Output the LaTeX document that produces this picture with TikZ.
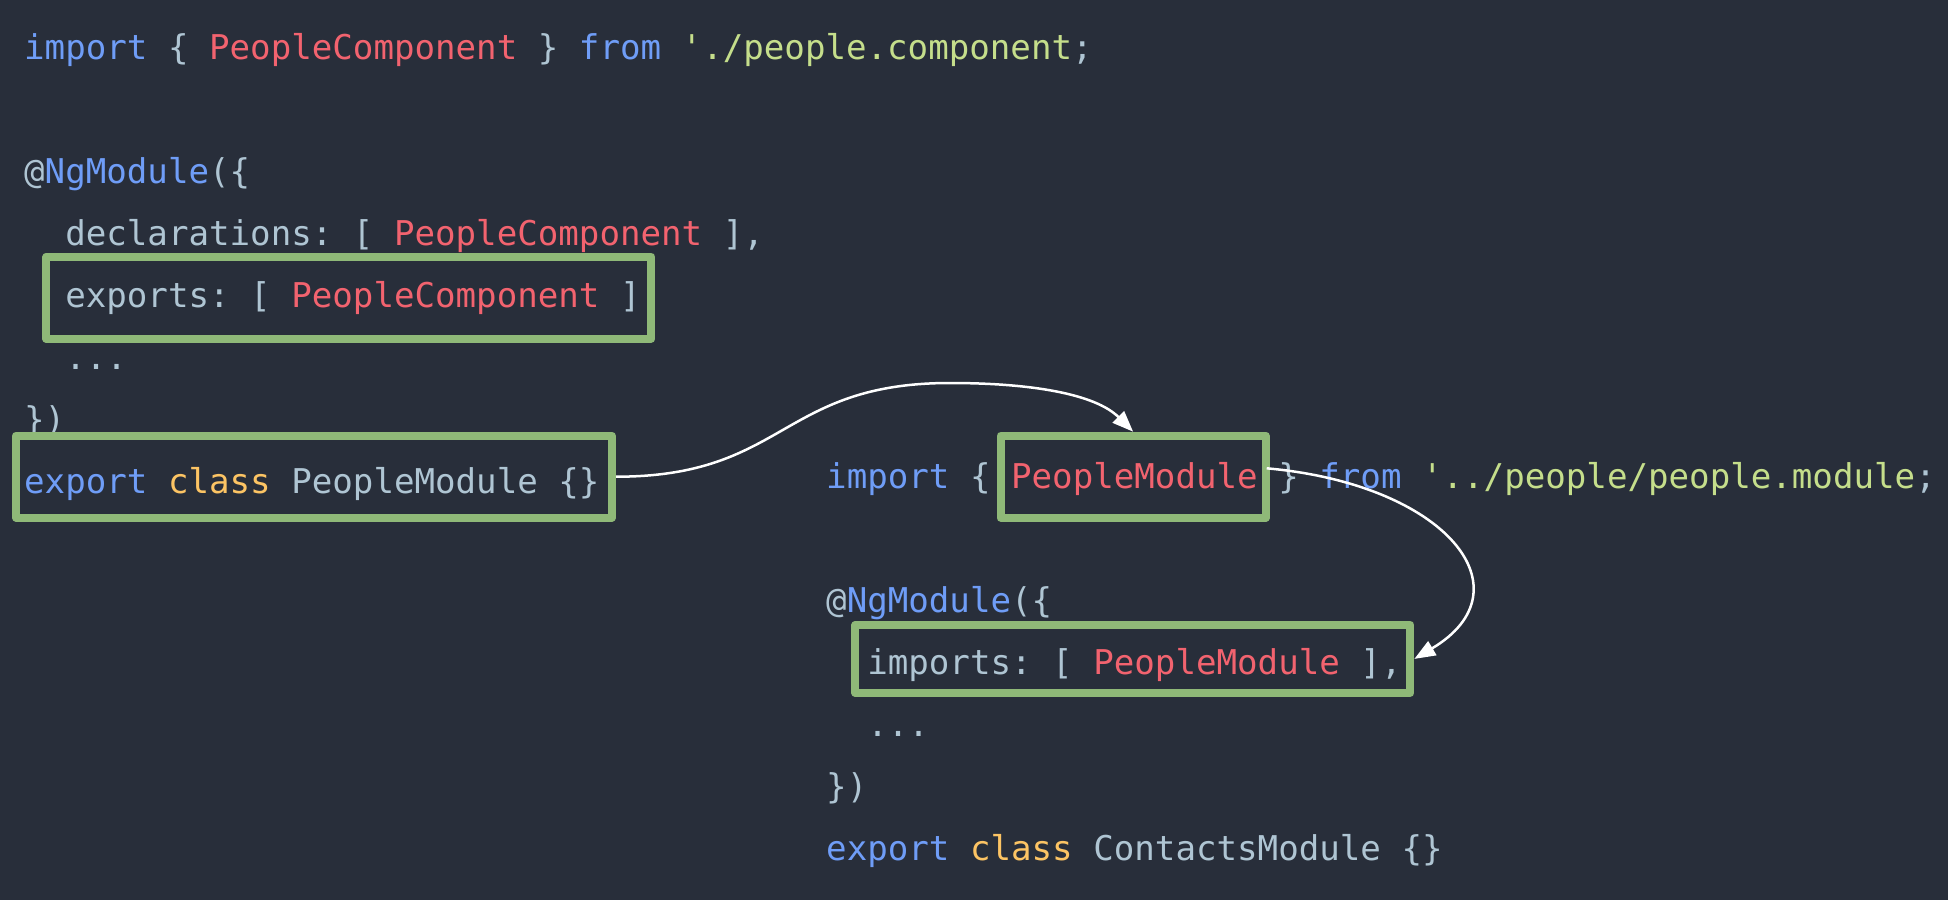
\documentclass[tikz,border=0pt]{standalone}
\usepackage{fontspec}
\setmonofont{DejaVu Sans Mono}
\usetikzlibrary{arrows.meta,calc}
\definecolor{bgc}{HTML}{282E3A}
\definecolor{kwc}{HTML}{6F9DF7}
\definecolor{clc}{HTML}{F2636F}
\definecolor{stc}{HTML}{C5DE8B}
\definecolor{ylc}{HTML}{FCC464}
\definecolor{puc}{HTML}{AFC5D3}
\definecolor{hlc}{HTML}{8FB978}
\newcommand{\ckw}[1]{\textcolor{kwc}{#1}}
\newcommand{\ccl}[1]{\textcolor{clc}{#1}}
\newcommand{\cst}[1]{\textcolor{stc}{#1}}
\newcommand{\cyl}[1]{\textcolor{ylc}{#1}}
\begin{document}
\begin{tikzpicture}[x=1pt,y=-1pt,
  code/.style={anchor=base west, inner sep=0pt, text=puc,
    font=\ttfamily\fontsize{34.13pt}{40pt}\selectfont},
  hl/.style={draw=hlc, line width=8pt, line join=round, inner sep=0pt},
  conn/.style={draw=white, line width=2.5pt, -{Triangle[length=21pt,width=16pt]}}]
\fill[bgc] (0,0) rectangle (1948,900);
\useasboundingbox (0,0) rectangle (1948,900);

% left block
\node[code] (l1) at (24,59.5) {\ckw{import}~\{~\ccl{PeopleComponent}~\}~\ckw{from}~\cst{'./people.component};};
\node[code] (l3) at (24,183.5) {@\ckw{NgModule}(\{};
\node[code] (l4) at (24,245.5) {~~declarations:~[~\ccl{PeopleComponent}~],};
\node[code] (l5) at (24,307.5) {~~exports:~[~\ccl{PeopleComponent}~]};
\node[code] (l6) at (24,369.5) {~~...};
\node[code] (l7) at (24,431.5) {\})};
\node[code] (l8) at (24,493.5) {\ckw{export}~\cyl{class}~PeopleModule~\{\}};

% right block
\node[code] (r1) at (826,488.5) {\ckw{import}~\{~\ccl{PeopleModule}~\}~\ckw{from}~\cst{'../people/people.module};};
\node[code] (r3) at (826,612.5) {@\ckw{NgModule}(\{};
\node[code] (r4) at (826,674.5) {~~imports:~[~\ccl{PeopleModule}~],};
\node[code] (r5) at (826,736.5) {~~...};
\node[code] (r6) at (826,798.5) {\})};
\node[code] (r7) at (826,860.5) {\ckw{export}~\cyl{class}~ContactsModule~\{\}};

% highlight boxes
\node[hl, minimum width=604.9pt, minimum height=82pt] (bxA) at (348.9,297.7) {};
\node[hl, minimum width=596pt, minimum height=82pt] (bxB) at (314,476.7) {};
\node[hl, minimum width=265.2pt, minimum height=82pt] (bxC) at (1133.1,476.7) {};
\node[hl, minimum width=554.9pt, minimum height=68.2pt] (bxD) at (1132.9,658.9) {};

% connectors
\coordinate (pk1) at (950,383);
\draw[conn] (bxB.east) .. controls +(170,0) and +(-170,0) .. (pk1)
  .. controls +(80,0) and +(-38,-38) .. (bxC.north);
\draw[conn] ($(bxC.east)+(-3,-8.4)$) .. controls +(180,16) and +(116,-69) .. (bxD.east);
\end{tikzpicture}
\end{document}
